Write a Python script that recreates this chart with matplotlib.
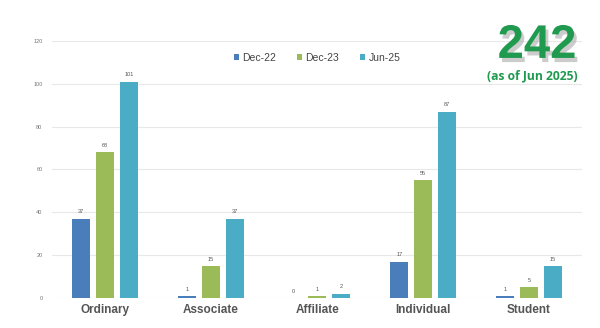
import numpy as np
import matplotlib
matplotlib.use("Agg")
import matplotlib.pyplot as plt
import matplotlib.patheffects as pe

categories = ["Ordinary", "Associate", "Affiliate", "Individual", "Student"]
series_names = ["Dec-22", "Dec-23", "Jun-25"]
dec22 = [37, 1, 0, 17, 1]
dec23 = [68, 15, 1, 55, 5]
jun25 = [101, 37, 2, 87, 15]
colors = ["#4a7ebb", "#9bbb59", "#4bacc6"]

plt.rcParams["font.family"] = ["Liberation Sans", "DejaVu Sans"]

fig = plt.figure(figsize=(6, 3.28), dpi=100)
ax = fig.add_axes([0.087, 0.0915, 0.883, 0.7835])

x = np.arange(len(categories))
w = 0.17
gap = 0.225
for i, (vals, name, c) in enumerate(zip([dec22, dec23, jun25], series_names, colors)):
    pos = x + (i - 1) * gap
    ax.bar(pos, vals, width=w, color=c, label=name, zorder=3)
    for p, v in zip(pos, vals):
        ax.text(p, v + 2, str(v), ha="center", va="bottom", fontsize=4, color="#555555")

ax.set_xlim(-0.5, len(categories) - 0.5)
ax.set_ylim(0, 120)
ax.set_yticks(range(0, 121, 20))
ax.tick_params(axis="y", labelsize=4, colors="#777777", length=0, pad=7)
ax.tick_params(axis="x", length=0, pad=4)
ax.set_xticks(x)
ax.set_xticklabels(categories, fontsize=8.5, fontweight="bold", color="#555555",
                   family=["Liberation Sans Narrow", "Liberation Sans"])
ax.grid(axis="y", color="#e8e8e8", linewidth=0.8, zorder=0)
for s in ax.spines.values():
    s.set_visible(False)

ax.legend(loc="upper center", bbox_to_anchor=(0.5, 0.99), ncol=3, frameon=False,
          fontsize=7.5, handlelength=0.5, handleheight=0.5, handletextpad=0.3,
          columnspacing=2.0, labelcolor="#444444")

shadow = [pe.withSimplePatchShadow(offset=(2, -3), shadow_rgbFace="#aaaaaa", alpha=0.6)]
fig.text(0.895, 0.86, "242", fontsize=34, fontweight="heavy", color="#1f9a4f",
         ha="center", va="center", path_effects=shadow)
fig.text(0.887, 0.77, "(as of Jun 2025)", fontsize=8.7, fontweight="bold", color="#1f9a4f",
         ha="center", va="center", family=["Open Sans", "DejaVu Sans"])

fig.savefig("out.png", dpi=100)
